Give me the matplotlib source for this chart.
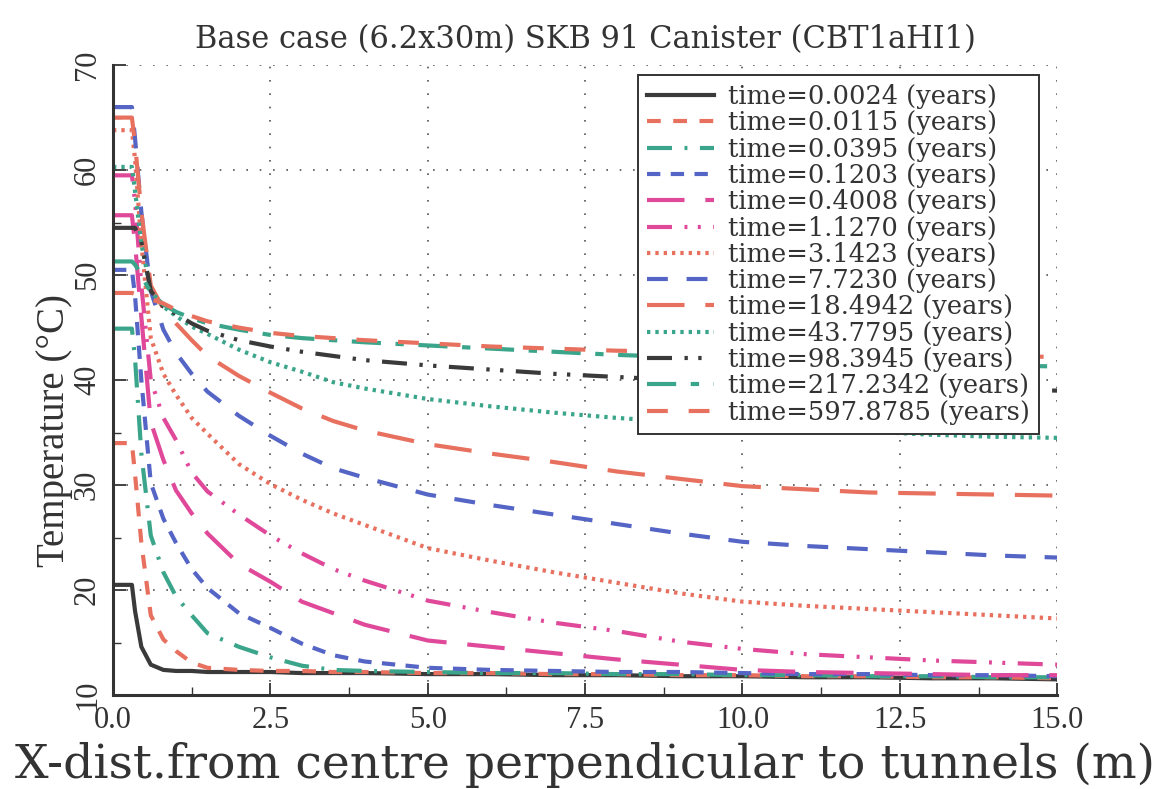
import matplotlib
matplotlib.use("Agg")
import matplotlib.pyplot as plt
from matplotlib.ticker import MultipleLocator

# distance from centre (m)
x = [0, 0.3, 0.35, 0.45, 0.6, 0.8, 1.0, 1.25, 1.5, 2.0, 2.5, 3.0, 3.5, 4.0,
     5.0, 6.0, 7.0, 8.0, 9.0, 10.0, 11.0, 12.0, 13.0, 14.0, 15.0]

times = ["0.0024", "0.0115", "0.0395", "0.1203", "0.4008", "1.1270", "3.1423",
         "7.7230", "18.4942", "43.7795", "98.3945", "217.2342", "597.8785"]

t_0024 = [20.5, 20.5, 18.0, 14.6, 12.9, 12.4, 12.3, 12.3, 12.2, 12.2, 12.2, 12.1, 12.1,
          12.1, 12.0, 12.0, 11.9, 11.9, 11.8, 11.8, 11.7, 11.7, 11.6, 11.6, 11.5]
t_0115 = [34.0, 34.0, 31.0, 24.5, 17.6, 15.3, 14.2, 13.1, 12.6, 12.4, 12.3, 12.3, 12.2,
          12.2, 12.1, 12.1, 12.0, 12.0, 11.9, 11.9, 11.8, 11.8, 11.7, 11.7, 11.6]
t_0395 = [44.9, 44.9, 42.0, 33.0, 25.2, 21.7, 19.4, 17.6, 15.9, 14.6, 13.6, 12.8, 12.4,
          12.3, 12.2, 12.1, 12.1, 12.0, 12.0, 11.9, 11.9, 11.8, 11.8, 11.7, 11.7]
t_1203 = [50.5, 50.5, 48.0, 40.0, 30.2, 26.8, 24.5, 22.0, 20.2, 17.8, 16.4, 14.9, 13.8,
          13.2, 12.6, 12.4, 12.3, 12.2, 12.2, 12.1, 12.0, 12.0, 11.9, 11.9, 11.8]
t_4008 = [55.7, 55.7, 53.0, 46.0, 36.0, 32.4, 29.5, 27.3, 25.4, 22.5, 20.8, 18.9, 17.8,
          16.7, 15.2, 14.6, 14.0, 13.4, 12.9, 12.4, 12.2, 12.1, 12.0, 11.9, 11.9]
t_1127 = [59.5, 59.5, 57.0, 49.0, 40.0, 36.4, 34.3, 31.2, 29.4, 27.2, 25.2, 23.5, 22.0,
          20.9, 19.0, 17.9, 16.9, 16.1, 15.1, 14.4, 13.9, 13.6, 13.3, 13.1, 12.9]
t_3142 = [63.8, 63.8, 61.0, 53.0, 44.0, 40.6, 38.6, 36.4, 34.9, 32.0, 30.1, 28.6, 27.3,
          26.2, 24.0, 22.8, 21.7, 20.7, 19.7, 18.9, 18.5, 18.2, 17.9, 17.6, 17.3]
t_7723 = [66.0, 66.0, 63.0, 56.0, 48.5, 44.8, 42.6, 40.6, 38.9, 36.6, 34.7, 33.0, 31.6,
          30.7, 29.1, 28.1, 27.2, 26.3, 25.4, 24.6, 24.2, 23.9, 23.6, 23.3, 23.1]
t_18494 = [65.0, 65.0, 62.5, 56.0, 49.0, 46.8, 45.4, 43.8, 42.3, 40.4, 38.8, 37.3, 36.1,
           35.2, 33.9, 33.0, 32.2, 31.3, 30.6, 29.9, 29.6, 29.3, 29.2, 29.1, 29.0]
t_43780 = [60.3, 60.3, 58.0, 53.0, 48.5, 47.0, 46.1, 45.1, 44.4, 42.9, 41.7, 40.8, 39.8,
           39.2, 38.2, 37.5, 36.9, 36.4, 36.0, 35.6, 35.3, 35.1, 34.8, 34.6, 34.5]
t_98395 = [54.5, 54.5, 54.5, 53.2, 48.5, 47.0, 46.3, 45.4, 44.7, 43.8, 43.2, 42.7, 42.3,
           41.9, 41.4, 41.0, 40.6, 40.3, 40.0, 39.8, 39.6, 39.4, 39.2, 39.1, 39.0]
t_217234 = [51.3, 51.3, 51.0, 50.0, 48.3, 47.2, 46.5, 45.9, 45.4, 44.8, 44.3, 44.0, 43.8,
            43.6, 43.3, 43.0, 42.7, 42.4, 42.2, 42.0, 41.8, 41.6, 41.5, 41.4, 41.3]
t_597879 = [48.3, 48.3, 48.2, 48.0, 47.7, 47.3, 46.7, 46.1, 45.6, 45.0, 44.5, 44.2, 44.0,
            43.8, 43.5, 43.2, 43.0, 42.8, 42.7, 42.6, 42.5, 42.4, 42.3, 42.3, 42.2]

series = [t_0024, t_0115, t_0395, t_1203, t_4008, t_1127, t_3142,
          t_7723, t_18494, t_43780, t_98395, t_217234, t_597879]

xticks = [0.0, 2.5, 5.0, 7.5, 10.0, 12.5, 15.0]
yticks = [10, 20, 30, 40, 50, 60, 70]

red = "#e8705f"
teal = "#3aa58a"
blue = "#5565c5"
pink = "#e0489a"
blk = "#3a3a3a"

colors = [blk, red, teal, blue, pink, pink, red, blue, red, teal, blk, teal, red]
styles = ["-",
          (0, (3.3, 3.0)),
          (0, (6, 3, 0.7, 3)),
          (0, (3.2, 2.5)),
          (0, (9, 5)),
          (0, (6, 3, 0.7, 2.5, 0.7, 3)),
          (0, (0.8, 1.2)),
          (0, (5, 4.5)),
          (0, (9, 5)),
          (0, (0.8, 1.2)),
          (0, (6, 3, 0.8, 2.5, 0.8, 3)),
          (0, (7, 3.5, 2, 3.5)),
          (0, (5, 5))]

fig = plt.figure(figsize=(11.7, 7.89), dpi=100)
ax = fig.add_axes([0.0966, 0.119, 0.807, 0.7985])

for ys, c, ls, t in zip(series, colors, styles, times):
    ax.plot(x, ys, color=c, linestyle=ls, linewidth=3,
            dash_capstyle="butt", label="time=" + t + " (years)")

ax.set_xlim(0, 15)
ax.set_ylim(10, 70)
ax.set_xticks(xticks)
ax.set_yticks(yticks)
ax.xaxis.set_minor_locator(MultipleLocator(1.25))
ax.yaxis.set_minor_locator(MultipleLocator(5))
ax.set_xticklabels(["%.1f" % v for v in xticks], family="Liberation Serif",
                   fontsize=22, color="#333333")
ax.set_yticklabels(["%d" % v for v in yticks], family="Liberation Serif",
                   fontsize=22, color="#333333", rotation=90, va="center")
ax.grid(True, which="major", color="#555555", linestyle=(0, (1, 7)), linewidth=1.2)

ax.spines["top"].set_visible(False)
ax.spines["right"].set_visible(False)
for side in ["left", "bottom"]:
    ax.spines[side].set_linewidth(2.2)
    ax.spines[side].set_color("#333333")

ax.tick_params(which="major", direction="in", length=9, width=1.3, color="#333333", pad=8)
ax.tick_params(which="minor", direction="in", length=6, width=1.0, color="#333333")

ax.set_xlabel("X-dist.from centre perpendicular to tunnels (m)",
              family="DejaVu Serif", fontsize=34, color="#333333", labelpad=5)
ax.set_ylabel("Temperature (°C)", family="Liberation Serif", fontsize=28,
              color="#333333")
ax.yaxis.set_label_coords(-0.042, 0.42)
ax.set_title("Base case (6.2x30m) SKB 91 Canister (CBT1aHI1)",
             family="DejaVu Serif", fontsize=22, color="#333333", pad=12)

leg = ax.legend(loc="upper right", bbox_to_anchor=(0.981, 0.984), borderaxespad=0,
                fancybox=False, framealpha=1, edgecolor="#333333",
                prop={"family": "DejaVu Serif", "size": 18.5},
                handlelength=2.6, handletextpad=0.58, labelspacing=0.05,
                borderpad=0.35)
leg.get_frame().set_linewidth(1.4)
for txt in leg.get_texts():
    txt.set_color("#333333")

fig.savefig("out.png", dpi=100)
